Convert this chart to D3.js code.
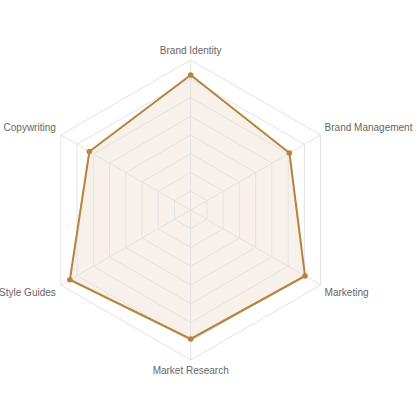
<!DOCTYPE html>
<html><head><meta charset="utf-8">
<script src="https://cdn.jsdelivr.net/npm/d3@7"></script>
<style>html,body{margin:0;padding:0;background:#fff;}svg{display:block;}</style>
</head><body>
<svg id="c" width="420" height="420"></svg>
<script>
const categories = ["Brand Identity","Brand Management","Marketing","Market Research","Style Guides","Copywriting"];
const values = [90, 76, 88, 86, 93, 78];
const maxValue = 100;
const levels = 8;

const svg = d3.select("#c");
const cx = 190.7, cy = 210, R = 150;
const n = categories.length;
const r = d3.scaleLinear().domain([0, maxValue]).range([0, R]);
const ang = i => -Math.PI/2 + i*2*Math.PI/n;
const pt = (i, rad) => [cx + rad*Math.cos(ang(i)), cy + rad*Math.sin(ang(i))];
const line = d3.line().curve(d3.curveLinearClosed);

const dataPts = values.map((v,i)=>pt(i, r(v)));
svg.append("path").attr("d", line(dataPts)).attr("fill","#c79a63").attr("fill-opacity",0.14).attr("stroke","none");

const g = svg.append("g");
d3.range(1, levels+1).forEach(l => {
  const rad = R*l/levels;
  g.append("path").attr("d", line(d3.range(n).map(i=>pt(i,rad))))
   .attr("fill","none").attr("stroke","#e3e3e3").attr("stroke-width",1);
});
d3.range(n).forEach(i => {
  const p = pt(i, R);
  g.append("line").attr("x1",cx).attr("y1",cy).attr("x2",p[0]).attr("y2",p[1])
   .attr("stroke","#e3e3e3").attr("stroke-width",1);
});

svg.append("path").attr("d", line(dataPts)).attr("fill","none").attr("stroke","#b8823f").attr("stroke-width",2).attr("stroke-linejoin","round");
svg.selectAll("circle.d").data(dataPts).enter().append("circle")
  .attr("cx",d=>d[0]).attr("cy",d=>d[1]).attr("r",2.8).attr("fill","#b8823f");

categories.forEach((c,i) => {
  const a = ang(i);
  const cs = Math.cos(a), sn = Math.sin(a);
  let x, y, anchor;
  if (Math.abs(cs) < 0.01) {
    x = cx; y = cy + sn*(R+10); anchor = "middle";
  } else {
    x = cx + cs*R + (cs>0?4:-5); y = cy + sn*(R+15); anchor = cs>0?"start":"end";
  }
  svg.append("text").attr("x",x).attr("y",y).attr("text-anchor",anchor)
    .attr("dominant-baseline","central")
    .attr("font-family","Liberation Sans, Arial, sans-serif").attr("font-size",10)
    .attr("fill","#666").text(c);
});
</script>
</body></html>
